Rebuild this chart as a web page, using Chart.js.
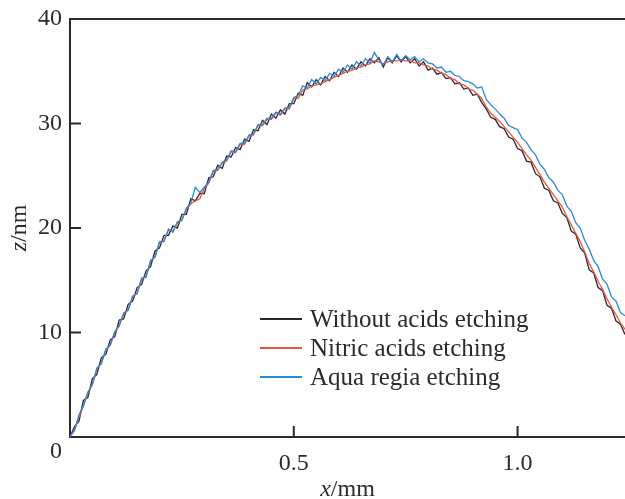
<!DOCTYPE html>
<html>
<head>
<meta charset="utf-8">
<script src="https://cdn.jsdelivr.net/npm/chart.js@4.4.1/dist/chart.umd.min.js"></script>
<style>
  html, body { margin: 0; padding: 0; background: #fff; }
  #wrap { width: 625px; height: 499px; }
</style>
</head>
<body>
<div id="wrap"><canvas id="profileChart" width="625" height="499"></canvas></div>
<script>
// sampled profile positions, mm
var xMm = [
  0.00,0.01,0.02,0.03,0.04,0.05,0.06,0.07,0.08,0.09,
  0.10,0.11,0.12,0.13,0.14,0.15,0.16,0.17,0.18,0.19,
  0.20,0.21,0.22,0.23,0.24,0.25,0.26,0.27,0.28,0.29,
  0.30,0.31,0.32,0.33,0.34,0.35,0.36,0.37,0.38,0.39,
  0.40,0.41,0.42,0.43,0.44,0.45,0.46,0.47,0.48,0.49,
  0.50,0.51,0.52,0.53,0.54,0.55,0.56,0.57,0.58,0.59,
  0.60,0.61,0.62,0.63,0.64,0.65,0.66,0.67,0.68,0.69,
  0.70,0.71,0.72,0.73,0.74,0.75,0.76,0.77,0.78,0.79,
  0.80,0.81,0.82,0.83,0.84,0.85,0.86,0.87,0.88,0.89,
  0.90,0.91,0.92,0.93,0.94,0.95,0.96,0.97,0.98,0.99,
  1.00,1.01,1.02,1.03,1.04,1.05,1.06,1.07,1.08,1.09,
  1.10,1.11,1.12,1.13,1.14,1.15,1.16,1.17,1.18,1.19,
  1.20,1.21,1.22,1.23,1.24
];

// z, nm
var zWithout = [
  0.0,1.0,1.5,3.5,3.8,5.6,6.0,7.6,7.9,9.3,
  9.6,11.2,11.3,12.7,13.0,14.3,14.6,15.9,16.3,17.8,
  18.1,19.3,19.3,20.2,20.0,21.3,21.3,22.8,22.6,23.3,
  23.3,24.8,24.9,26.0,25.7,26.9,26.8,27.7,27.5,28.5,
  28.3,29.4,29.3,30.3,29.9,30.9,30.5,31.3,30.9,31.9,
  31.9,32.9,32.7,33.9,33.5,34.2,33.7,34.5,34.1,34.9,
  34.5,35.3,34.9,35.6,35.2,35.9,35.5,36.2,35.8,36.3,
  35.4,36.3,35.8,36.5,35.9,36.4,35.8,36.2,35.5,35.9,
  35.1,35.3,34.7,34.9,34.3,34.4,33.8,33.9,33.3,33.4,
  32.7,32.8,32.0,31.4,30.6,30.4,29.7,29.5,28.7,28.5,
  27.6,27.4,26.4,26.3,25.2,24.9,23.8,23.6,22.6,22.4,
  21.4,21.0,19.7,19.4,18.1,17.6,16.0,15.7,14.3,14.0,
  12.6,12.3,11.1,10.8,9.8
];

var zNitric = [
  0.0,0.7,1.9,3.0,4.2,5.1,6.5,7.1,8.3,8.8,
  10.0,10.7,11.8,12.2,13.4,13.8,15.1,15.4,16.8,17.3,
  18.6,18.8,19.8,19.7,20.5,20.8,21.8,22.3,22.6,22.8,
  23.8,24.3,25.4,25.5,26.2,26.4,27.3,27.2,28.0,28.0,
  28.8,28.9,29.8,29.8,30.4,30.4,31.0,30.8,31.4,31.4,
  32.4,32.4,33.2,33.3,33.6,33.7,33.8,34.0,34.2,34.4,
  34.6,34.8,35.0,35.1,35.3,35.4,35.6,35.7,36.0,35.9,
  35.7,35.9,36.0,36.0,36.1,36.0,36.0,35.8,35.8,35.6,
  35.5,35.2,35.1,34.8,34.7,34.3,34.2,33.8,33.7,33.3,
  33.2,32.8,32.4,31.6,31.0,30.6,30.2,29.7,29.2,28.7,
  28.2,27.6,27.0,26.5,25.8,25.1,24.4,23.8,23.2,22.6,
  22.0,21.1,20.3,19.5,18.7,17.7,16.6,15.8,14.9,14.1,
  13.2,12.4,11.7,10.9,10.3
];

var zAqua = [
  0.1,0.6,2.1,3.0,4.3,5.0,6.6,7.0,8.4,8.8,
  10.1,10.6,11.9,12.1,13.5,13.7,15.2,15.3,16.9,17.2,
  18.7,18.7,19.9,19.6,20.6,20.7,21.9,22.4,23.9,23.4,
  23.9,24.4,25.5,25.6,26.3,26.5,27.4,27.3,28.1,28.1,
  28.9,29.0,29.9,29.9,30.5,30.5,31.1,30.9,31.5,31.5,
  32.5,32.7,33.6,33.4,34.2,33.8,34.4,34.1,34.8,34.5,
  35.2,34.9,35.6,35.2,35.9,35.5,36.2,35.8,36.8,36.1,
  35.6,36.4,35.9,36.6,36.0,36.5,36.1,36.4,35.9,36.2,
  35.8,35.7,35.3,35.4,34.9,35.0,34.6,34.5,34.1,34.0,
  33.8,33.4,33.5,32.3,31.8,31.4,30.9,30.5,29.8,29.6,
  29.4,28.6,28.2,27.5,27.0,26.1,25.6,24.8,24.4,23.6,
  23.2,22.1,21.6,20.5,20.0,18.8,18.0,16.9,16.3,15.1,
  14.6,13.4,13.0,11.9,11.6
];

var seriesNames = ['Without acids etching', 'Nitric acids etching', 'Aqua regia etching'];
var seriesColors = ['#2a2430', '#e8553c', '#2b8ad8'];
var yTicks = [10, 20, 30];
var xTicks = [0.5, 1.0];

var serif = '"Liberation Serif", "Times New Roman", serif';
var ink = '#2b2b2b';

function pts(zs) {
  return xMm.map(function(x, i) { return { x: x, y: zs[i] }; });
}

// frame, inward ticks, titles and the inside legend
var decorPlugin = {
  id: 'decor',
  afterDraw: function(chart) {
    var ctx = chart.ctx;
    var a = chart.chartArea;
    var xs = chart.scales.x, ys = chart.scales.y;
    ctx.save();
    ctx.strokeStyle = ink;
    ctx.lineWidth = 2;
    ctx.beginPath();
    ctx.moveTo(a.left - 1, a.top);
    ctx.lineTo(a.right, a.top);
    yTicks.forEach(function(v) {
      var py = ys.getPixelForValue(v);
      ctx.moveTo(a.left, py);
      ctx.lineTo(a.left + 11, py);
    });
    xTicks.forEach(function(v) {
      var px = xs.getPixelForValue(v);
      ctx.moveTo(px, a.bottom);
      ctx.lineTo(px, a.bottom - 11);
    });
    ctx.stroke();

    ctx.fillStyle = ink;
    ctx.font = '24px ' + serif;
    ctx.textAlign = 'right';
    ctx.textBaseline = 'middle';
    ctx.fillText('0', a.left - 8, a.bottom + 15);

    // x title
    ctx.textBaseline = 'alphabetic';
    ctx.textAlign = 'left';
    var cx = (a.left + a.right) / 2;
    ctx.font = 'italic 24px ' + serif;
    var w1 = ctx.measureText('x').width;
    ctx.font = '24px ' + serif;
    var w2 = ctx.measureText('/mm').width;
    var sx = cx - (w1 + w2) / 2;
    ctx.font = 'italic 24px ' + serif;
    ctx.fillText('x', sx, 496);
    ctx.font = '24px ' + serif;
    ctx.fillText('/mm', sx + w1, 496);

    // y title
    ctx.save();
    ctx.translate(26, (a.top + a.bottom) / 2);
    ctx.rotate(-Math.PI / 2);
    ctx.font = 'italic 24px ' + serif;
    w1 = ctx.measureText('z').width;
    ctx.font = '24px ' + serif;
    w2 = ctx.measureText('/nm').width;
    sx = -(w1 + w2) / 2;
    ctx.font = 'italic 24px ' + serif;
    ctx.fillText('z', sx, 0);
    ctx.font = '24px ' + serif;
    ctx.fillText('/nm', sx + w1, 0);
    ctx.restore();

    // legend
    ctx.font = '25px ' + serif;
    ctx.textBaseline = 'middle';
    chart.data.datasets.forEach(function(ds, i) {
      var ly = 319 + i * 29;
      ctx.strokeStyle = ds.borderColor;
      ctx.lineWidth = 2;
      ctx.beginPath();
      ctx.moveTo(260, ly);
      ctx.lineTo(302, ly);
      ctx.stroke();
      ctx.fillStyle = ink;
      ctx.fillText(ds.label, 310, ly + 1);
    });
    ctx.restore();
  }
};

new Chart(document.getElementById('profileChart'), {
  type: 'line',
  data: {
    datasets: [
      { label: seriesNames[0], data: pts(zWithout), borderColor: seriesColors[0], order: 2 },
      { label: seriesNames[1], data: pts(zNitric), borderColor: seriesColors[1], order: 1 },
      { label: seriesNames[2], data: pts(zAqua), borderColor: seriesColors[2], order: 0 }
    ]
  },
  options: {
    responsive: false,
    animation: false,
    layout: { padding: { top: 19, right: 0, left: 0, bottom: 0 } },
    elements: {
      line: { borderWidth: 1.3, tension: 0, fill: false },
      point: { radius: 0 }
    },
    plugins: {
      legend: { display: false },
      tooltip: { enabled: false }
    },
    scales: {
      x: {
        type: 'linear',
        min: 0,
        max: 1.24,
        grid: { display: false, drawTicks: false },
        border: { display: true, color: ink, width: 2 },
        ticks: {
          stepSize: 0.5,
          autoSkip: false,
          maxRotation: 0,
          padding: 12,
          color: ink,
          font: { family: serif, size: 24 },
          callback: function(v) { return (v === 0.5 || v === 1) ? v.toFixed(1) : ''; }
        },
        afterFit: function(s) { s.height = 62; s.paddingRight = 0; s.paddingLeft = 0; }
      },
      y: {
        min: 0,
        max: 40,
        grid: { display: false, drawTicks: false },
        border: { display: true, color: ink, width: 2 },
        ticks: {
          stepSize: 10,
          autoSkip: false,
          padding: 8,
          color: ink,
          font: { family: serif, size: 24 },
          callback: function(v) { return v === 0 ? '' : v; }
        },
        afterFit: function(s) { s.width = 70; s.paddingTop = 0; s.paddingBottom = 0; }
      }
    }
  },
  plugins: [decorPlugin]
});
</script>
</body>
</html>
